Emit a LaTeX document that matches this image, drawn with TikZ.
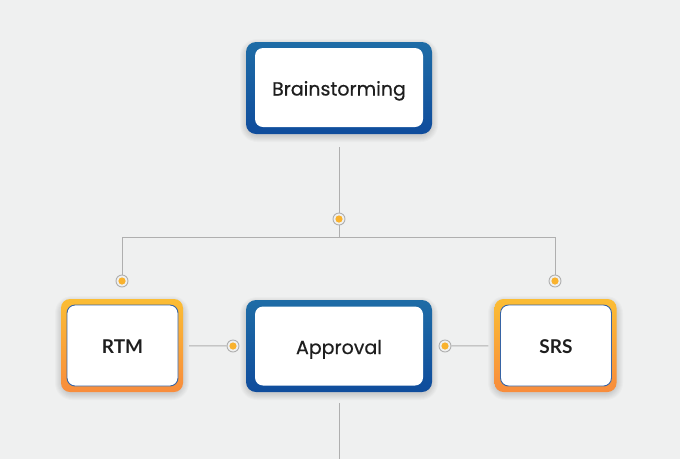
\documentclass[tikz,border=0pt]{standalone}
\usepackage{fontspec}
\newfontfamily\pop{Poppins}[FakeBold=0.5]
\newfontfamily\lat{Lato}
\definecolor{bg}{RGB}{239,240,240}
\definecolor{bluetop}{RGB}{30,108,166}
\definecolor{bluebot}{RGB}{15,76,156}
\definecolor{yeltop}{RGB}{251,189,52}
\definecolor{orabot}{RGB}{248,140,60}
\definecolor{linec}{RGB}{175,175,175}
\definecolor{dotc}{RGB}{249,178,45}
\definecolor{ibord}{RGB}{55,100,165}
\definecolor{txt}{RGB}{30,30,30}
\tikzset{
  shadowstep/.style={fill=black, fill opacity=0.018},
  bluebox/.style={rectangle, rounded corners=10pt, minimum width=186pt, minimum height=92pt, top color=bluetop, bottom color=bluebot, draw=none},
  yelbox/.style={rectangle, rounded corners=9pt, minimum width=122pt, minimum height=93pt, top color=yeltop, bottom color=orabot, draw=none},
  blueinner/.style={rectangle, rounded corners=8pt, fill=white, minimum width=168pt, minimum height=79pt, text height=16pt, text depth=0pt, font=\pop\fontsize{19}{22}\selectfont, text=txt},
  yelinner/.style={rectangle, rounded corners=8pt, fill=white, draw=ibord, line width=0.9pt, minimum width=111pt, minimum height=81pt, text height=15.5pt, text depth=0pt, font=\lat\bfseries\fontsize{19}{22}\selectfont, text=txt},
  dotnode/.style={circle, minimum size=12pt, inner sep=0pt, draw=linec, line width=0.9pt, fill=bg},
  conn/.style={draw=linec, line width=1pt},
}
\begin{document}
\begin{tikzpicture}[x=1pt,y=-1pt]
\fill[bg] (0,0) rectangle (680,459);
\useasboundingbox (0,0) rectangle (680,459);
% soft shadows
\foreach \cx/\cy/\w/\h in {339/88/93/46, 339/346/93/46, 122/345.5/61/46.5, 555.5/345.5/61.5/46.5}{
  \foreach \i in {1,...,7}{
    \fill[shadowstep, rounded corners=10pt+\i pt] (\cx-\w-\i+1,\cy-\h-\i+4) rectangle (\cx+\w+\i-1,\cy+\h+\i+1);
  }
}
% boxes
\node[bluebox] (b) at (339,88) {};
\node[blueinner] (bi) at (339,87.5) {Brainstorming};
\node[bluebox] (ap) at (339,346) {};
\node[blueinner] (api) at (339,346) {Approval};
\node[yelbox] (rtm) at (122,345.5) {};
\node[yelinner] (rtmi) at (122.5,345.5) {RTM};
\node[yelbox] (srs) at (555.5,345.5) {};
\node[yelinner] (srsi) at (556,345.5) {SRS};
% junctions
\coordinate (j) at (339,237);
\coordinate (jl) at (122,237);
\coordinate (jr) at (555,237);
\coordinate (bottom) at (339,459);
% dots
\node[dotnode] (d1) at (339,219) {};
\node[dotnode] (d2) at (122,281) {};
\node[dotnode] (d3) at (555,281) {};
\node[dotnode] (d4) at (233,346) {};
\node[dotnode] (d5) at (445,346) {};
% connectors
\draw[conn, shorten <=13pt] (b) -- (d1);
\draw[conn] (d1) -- (j);
\draw[conn] (jl) -- (jr);
\draw[conn] (jl) -- (d2);
\draw[conn] (jr) -- (d3);
\draw[conn, shorten <=6pt] (rtm) -- (d4);
\draw[conn, shorten <=6pt] (srs) -- (d5);
\draw[conn, shorten <=11pt] (ap) -- (bottom);
% dot centres
\foreach \d in {d1,d2,d3,d4,d5} \fill[dotc] (\d) circle (3.6pt);
\end{tikzpicture}
\end{document}
